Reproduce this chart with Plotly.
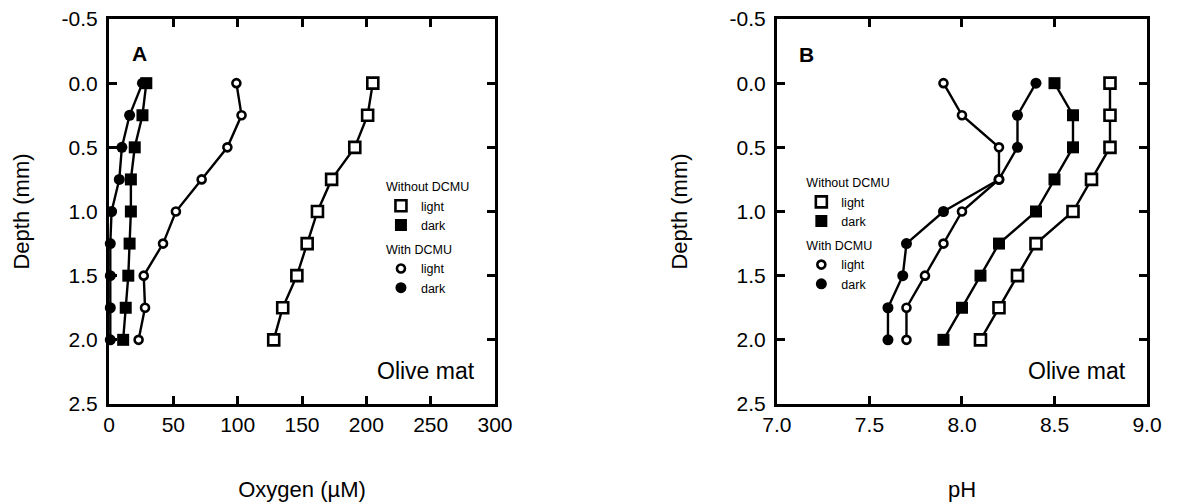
import plotly.graph_objects as go

# ---- data ----
depth = [0.0, 0.25, 0.5, 0.75, 1.0, 1.25, 1.5, 1.75, 2.0]

o2_without_light = [205, 201, 191, 173, 162, 154, 146, 135, 128]
o2_without_dark = [29, 26, 20, 17, 17, 16, 15, 13, 11]
o2_with_light = [99, 103, 92, 72, 52, 42, 27, 28, 23]
o2_with_dark = [26, 16, 10, 8, 2, 1, 1, 1, 1]

ph_without_light = [8.8, 8.8, 8.8, 8.7, 8.6, 8.4, 8.3, 8.2, 8.1]
ph_without_dark = [8.5, 8.6, 8.6, 8.5, 8.4, 8.2, 8.1, 8.0, 7.9]
ph_with_light = [7.9, 8.0, 8.2, 8.2, 8.0, 7.9, 7.8, 7.7, 7.7]
ph_with_dark = [8.4, 8.3, 8.3, 8.2, 7.9, 7.7, 7.68, 7.6, 7.6]

o2_ticks = [0, 50, 100, 150, 200, 250, 300]
o2_ticklabels = ["0", "50", "100", "150", "200", "250", "300"]
ph_ticks = [7.0, 7.5, 8.0, 8.5, 9.0]
ph_ticklabels = ["7.0", "7.5", "8.0", "8.5", "9.0"]
depth_ticks = [-0.5, 0.0, 0.5, 1.0, 1.5, 2.0, 2.5]
depth_ticklabels = ["-0.5", "0.0", "0.5", "1.0", "1.5", "2.0", "2.5"]

FONT = "Liberation Sans, Arial, Helvetica, sans-serif"
BLACK = "black"

styles = {
    "without_light": dict(symbol="square-open", size=11, line=dict(width=2.6, color=BLACK), color=BLACK),
    "without_dark": dict(symbol="square", size=12, color=BLACK),
    "with_light": dict(symbol="circle-open", size=8, line=dict(width=2.6, color=BLACK), color=BLACK),
    "with_dark": dict(symbol="circle", size=11, color=BLACK),
}

fig = go.Figure()

def add_series(xvals, key, xa, ya):
    m = dict(styles[key])
    if "open" in m["symbol"]:
        m["symbol"] = m["symbol"].replace("-open", "")
        m["color"] = "white"
    fig.add_trace(go.Scatter(
        x=xvals, y=depth, mode="lines+markers", xaxis=xa, yaxis=ya,
        line=dict(color=BLACK, width=2.4), marker=m,
        showlegend=False, cliponaxis=False, hoverinfo="x+y"))

add_series(o2_with_dark, "with_dark", "x", "y")
add_series(o2_without_dark, "without_dark", "x", "y")
add_series(o2_with_light, "with_light", "x", "y")
add_series(o2_without_light, "without_light", "x", "y")

add_series(ph_with_dark, "with_dark", "x2", "y2")
add_series(ph_with_light, "with_light", "x2", "y2")
add_series(ph_without_dark, "without_dark", "x2", "y2")
add_series(ph_without_light, "without_light", "x2", "y2")

# legend entries (symbols only)
for legend_id, xa, ya in [("legend", "x", "y"), ("legend2", "x2", "y2")]:
    for key, name, grp, title in [
        ("without_light", "light", "without", "Without DCMU"),
        ("without_dark", "dark", "without", "Without DCMU"),
        ("with_light", "light", "with", "With DCMU"),
        ("with_dark", "dark", "with", "With DCMU"),
    ]:
        m = dict(styles[key])
        fig.add_trace(go.Scatter(
            x=[None], y=[None], mode="markers", name=name, marker=m,
            xaxis=xa, yaxis=ya, legend=legend_id, legendgroup=legend_id + grp,
            legendgrouptitle=dict(text=title, font=dict(size=12.5, family=FONT, color=BLACK)),
            showlegend=True))

axis_common = dict(
    showline=True, linewidth=3, linecolor=BLACK, mirror="ticks",
    ticks="inside", ticklen=8, tickwidth=2.5, tickcolor=BLACK,
    showgrid=False, zeroline=False, automargin=False,
    tickfont=dict(size=21, family=FONT, color=BLACK),
)
TITLE_FONT = dict(size=22, family=FONT, color=BLACK)

fig.update_layout(
    width=1184, height=502,
    margin=dict(l=109, r=37, t=19, b=98),
    plot_bgcolor="white", paper_bgcolor="white",
    font=dict(family=FONT, color=BLACK),
    xaxis=dict(domain=[0, 0.3719], range=[0, 300], tickvals=o2_ticks, ticktext=o2_ticklabels,
               ticklabelstandoff=0,
               title=dict(text="Oxygen (µM)", font=TITLE_FONT, standoff=50),
               **axis_common),
    yaxis=dict(range=[2.5, -0.5], tickvals=depth_ticks, ticktext=depth_ticklabels,
               ticklabelstandoff=4,
               title=dict(text="Depth (mm)", font=TITLE_FONT, standoff=26),
               **axis_common),
    xaxis2=dict(domain=[0.6435, 1], range=[7.0, 9.0], tickvals=ph_ticks, ticktext=ph_ticklabels,
                anchor="y2", ticklabelstandoff=0,
                title=dict(text="pH", font=TITLE_FONT, standoff=50),
                **axis_common),
    yaxis2=dict(range=[2.5, -0.5], tickvals=depth_ticks, ticktext=depth_ticklabels, anchor="x2",
                ticklabelstandoff=4,
                title=dict(text="Depth (mm)", font=TITLE_FONT, standoff=36),
                **axis_common),
    legend=dict(x=0.262, y=0.603, xanchor="left", yanchor="top",
                font=dict(size=12.5, family=FONT, color=BLACK), bgcolor="rgba(0,0,0,0)",
                tracegroupgap=5, itemwidth=30),
    legend2=dict(x=0.667, y=0.613, xanchor="left", yanchor="top",
                 font=dict(size=12.5, family=FONT, color=BLACK), bgcolor="rgba(0,0,0,0)",
                 tracegroupgap=5, itemwidth=30),
    annotations=[
        dict(text="<b>A</b>", x=24, y=-0.235, xref="x", yref="y", showarrow=False,
             font=dict(size=21, family=FONT)),
        dict(text="<b>B</b>", x=7.16, y=-0.22, xref="x2", yref="y2", showarrow=False,
             font=dict(size=21, family=FONT)),
        dict(text="Olive mat", x=286, y=2.24, xref="x", yref="y", xanchor="right", showarrow=False,
             font=dict(size=23, family=FONT)),
        dict(text="Olive mat", x=8.897, y=2.24, xref="x2", yref="y2", xanchor="right", showarrow=False,
             font=dict(size=23, family=FONT)),
    ],
)

fig.write_html("out.html")
